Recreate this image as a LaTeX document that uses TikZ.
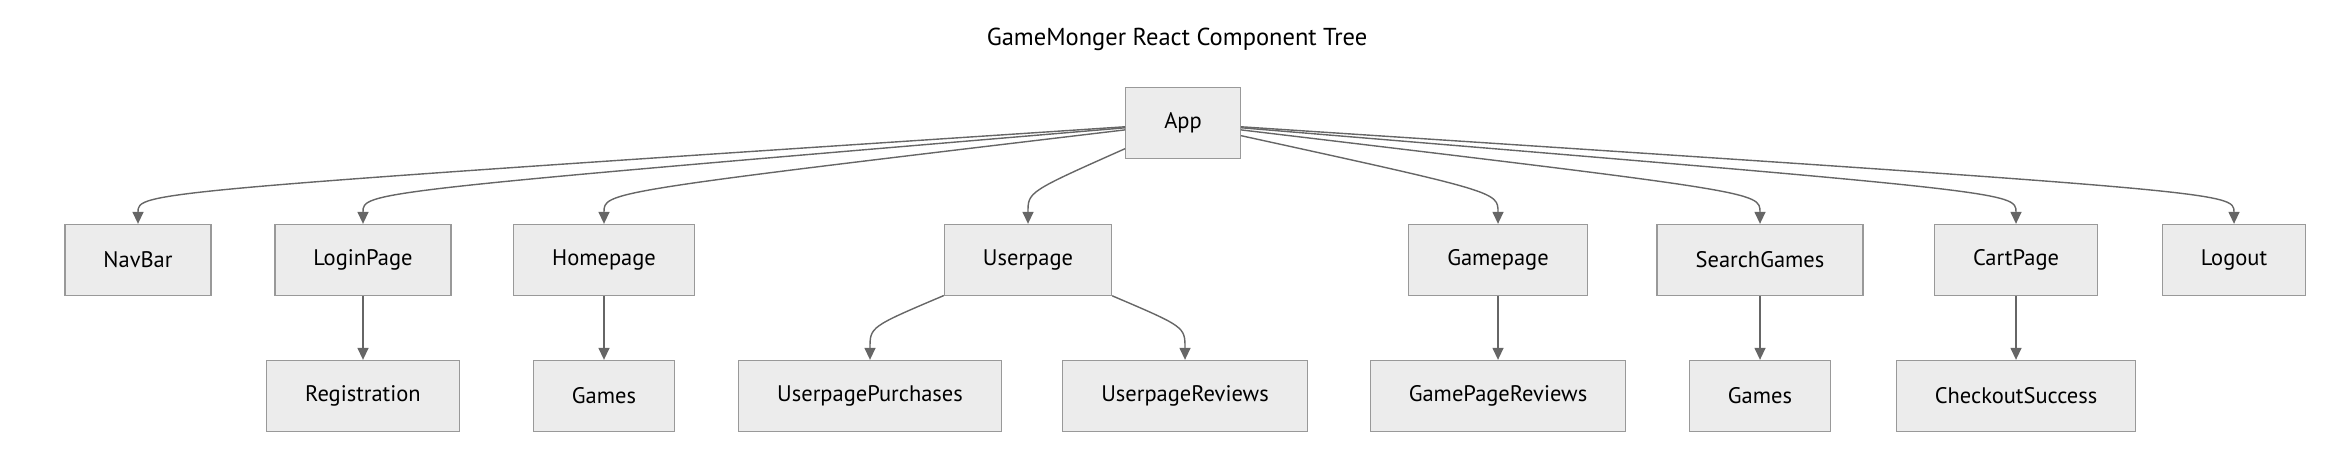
\documentclass[tikz,border=0pt]{standalone}
\usepackage{fontspec}
\setmainfont{PT Sans}
\usetikzlibrary{arrows.meta,calc}

\definecolor{boxfill}{HTML}{ECECEC}
\definecolor{boxline}{HTML}{999999}
\definecolor{linkgray}{HTML}{666666}

\begin{document}
\begin{tikzpicture}[x=1pt,y=1pt,>={Triangle[length=12pt,width=11pt]},node distance=137pt,
		comp/.style={draw=boxline,fill=boxfill,line width=1.3pt,minimum height=71pt,inner xsep=38.5pt,font=\fontsize{22.5}{26}\selectfont},
		link/.style={->,color=linkgray,line width=1.4pt}]
		\useasboundingbox (0,0) rectangle (2346,464);
		\node[font=\fontsize{24.5}{28}\selectfont] (title) at (1177,425) {GameMonger React Component Tree};
		\node[comp]	(app)	at (1183,341)	{App};

		% children of App
		\node[comp] (navbar)	[below of=app, xshift=-1045pt]	{NavBar};
		\node[comp] (login)	[below of=app, xshift=-820pt]	{LoginPage};
		\node[comp] (home)	[below of=app, xshift=-579pt]	{Homepage};
		\node[comp] (user)	[below of=app, xshift=-155pt]	{Userpage};
		\node[comp] (game)	[below of=app, xshift=315pt]	{Gamepage};
		\node[comp] (search)	[below of=app, xshift=577pt]	{SearchGames};
		\node[comp] (cart)	[below of=app, xshift=833pt]	{CartPage};
		\node[comp] (logout)	[below of=app, xshift=1051pt]	{Logout};

		% third row
		\node[comp] (reg)	[below of=login, node distance=136pt]	{Registration};
		\node[comp] (games)	[below of=home, node distance=136pt]	{Games};
		\node[comp] (purch)	[below of=user, node distance=136pt, xshift=-158pt]	{UserpagePurchases};
		\node[comp] (urev)	[below of=user, node distance=136pt, xshift=157pt]	{UserpageReviews};
		\node[comp] (grev)	[below of=game, node distance=136pt]	{GamePageReviews};
		\node[comp] (sgames)	[below of=search, node distance=136pt]	{Games};
		\node[comp] (checkout)	[below of=cart, node distance=136pt]	{CheckoutSuccess};

		\draw[link] (app) .. controls ($(navbar.north)+(0,32)$) and ($(navbar.north)+(0,32)$) .. (navbar.north);
		\draw[link] (app) .. controls ($(login.north)+(0,32)$) and ($(login.north)+(0,32)$) .. (login.north);
		\draw[link] (app) .. controls ($(home.north)+(0,32)$) and ($(home.north)+(0,32)$) .. (home.north);
		\draw[link] (app) .. controls ($(user.north)+(0,32)$) and ($(user.north)+(0,32)$) .. (user.north);
		\draw[link] (app) .. controls ($(game.north)+(0,32)$) and ($(game.north)+(0,32)$) .. (game.north);
		\draw[link] (app) .. controls ($(search.north)+(0,32)$) and ($(search.north)+(0,32)$) .. (search.north);
		\draw[link] (app) .. controls ($(cart.north)+(0,32)$) and ($(cart.north)+(0,32)$) .. (cart.north);
		\draw[link] (app) .. controls ($(logout.north)+(0,32)$) and ($(logout.north)+(0,32)$) .. (logout.north);

		\draw[link] (user) .. controls ($(purch.north)+(0,33)$) and ($(purch.north)+(0,33)$) .. (purch.north);
		\draw[link] (user) .. controls ($(urev.north)+(0,33)$) and ($(urev.north)+(0,33)$) .. (urev.north);

		\path[link]
		(login)		edge	(reg)
		(home)		edge	(games)
		(game)		edge	(grev)
		(search)	edge	(sgames)
		(cart)		edge	(checkout)
		;
\end{tikzpicture}
\end{document}
